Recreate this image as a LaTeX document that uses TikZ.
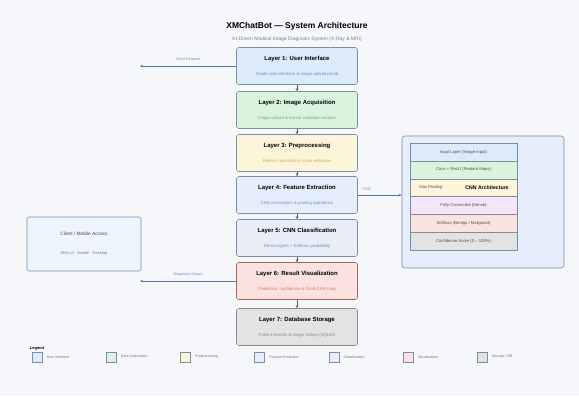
\documentclass[tikz,border=0pt]{standalone}
\usepackage{fontspec}
\setmainfont{Liberation Sans}
\usetikzlibrary{arrows.meta}
\definecolor{bgc}{HTML}{F5F7FB}
\definecolor{edgec}{HTML}{7C8DA6}
\definecolor{fillA}{HTML}{DCEAFB}
\definecolor{fillB}{HTML}{DAF3DD}
\definecolor{fillC}{HTML}{FCF5D9}
\definecolor{fillD}{HTML}{E5EEFA}
\definecolor{fillE}{HTML}{E8EDF6}
\definecolor{fillF}{HTML}{FBE1DF}
\definecolor{fillG}{HTML}{E3E3E3}
\definecolor{fillH}{HTML}{F3E6F8}
\definecolor{subA}{HTML}{6A93C8}
\definecolor{subB}{HTML}{6FAF7A}
\definecolor{subC}{HTML}{C8A94E}
\definecolor{subF}{HTML}{D07C78}
\definecolor{subG}{HTML}{8A8A8A}
\newcommand{\laytext}[3]{{\bfseries\fontsize{6}{7}\selectfont #1}\\[3bp]{\fontsize{4.3}{5}\selectfont\color{#3}#2}}
\begin{document}
\begin{tikzpicture}[x=1bp,y=-1bp,>={Stealth[length=3bp,width=2.6bp]},
    layer/.style={draw=edgec,line width=0.6bp,rounded corners=2.5bp,rectangle,minimum width=121bp,minimum height=37bp,align=center,inner sep=1bp},
    row/.style={draw=edgec,line width=0.4bp,rectangle,minimum width=107bp,minimum height=17.8bp,font=\fontsize{4.2}{5}\selectfont,text=black!70},
    note/.style={font=\fontsize{3.8}{4.5}\selectfont,text=subA},
    key/.style={draw=edgec,line width=0.5bp,minimum size=10bp,inner sep=0pt},
    keytext/.style={font=\fontsize{3.6}{4}\selectfont,text=black!55,anchor=west},
    link/.style={->,draw=black!65,line width=0.6bp},
    side/.style={->,draw=subA!80!black,line width=0.6bp}]
    %%
    \fill [bgc] (0,0) rectangle (579,396);
    \node (title) at (297,26) {\bfseries\fontsize{8.5}{10}\selectfont XMChatBot — System Architecture};
    \node (subtitle) at (297,39) {\fontsize{5}{6}\selectfont\color{black!50} AI-Driven Medical Image Diagnosis System (X-Ray \& MRI)};
    %%
    \node (l1) at (297,66) [layer,fill=fillA] {\laytext{Layer 1: User Interface}{Gradio web interface \& image upload portal}{subA}};
    \node (l2) at (297,110) [layer,fill=fillB] {\laytext{Layer 2: Image Acquisition}{Image upload \& format validation module}{subB}};
    \node (l3) at (297,153) [layer,fill=fillC] {\laytext{Layer 3: Preprocessing}{Resize, normalize \& noise reduction}{subC}};
    \node (l4) at (297,195) [layer,fill=fillD] {\laytext{Layer 4: Feature Extraction}{CNN convolution \& pooling operations}{subA}};
    \node (l5) at (297,238) [layer,fill=fillE] {\laytext{Layer 5: CNN Classification}{Dense layers + Softmax probability}{subA}};
    \node (l6) at (297,281) [layer,fill=fillF,draw=subF!80!black] {\laytext{Layer 6: Result Visualization}{Prediction, confidence \& Grad-CAM map}{subF}};
    \node (l7) at (297,327) [layer,fill=fillG,draw=subG] {\laytext{Layer 7: Database Storage}{Patient records \& image history (SQLite)}{subG}};
    \draw [link] (l1) -- (l2);
    \draw [link] (l2) -- (l3);
    \draw [link] (l3) -- (l4);
    \draw [link] (l4) -- (l5);
    \draw [link] (l5) -- (l6);
    \draw [link] (l6) -- (l7);
    %%
    \node (client) at (84,244) [draw=edgec,line width=0.6bp,fill=fillD!60,rectangle,rounded corners=1.5bp,minimum width=114bp,minimum height=54bp,align=center] {{\fontsize{4.8}{5.5}\selectfont\color{black!70} Client / Mobile Access}\\[7bp]{\fontsize{4}{4.5}\selectfont\color{black!50} Web UI · Mobile · Desktop}};
    \coordinate (req) at (140,66);
    \coordinate (res) at (140,281);
    \draw [side] (l1.west) -- node [note,above=1bp] {Send Request} (req);
    \draw [side] (l6.west) -- node [note,above=1bp] {Diagnosis Output} (res);
    %%
    \node (cnn) at (483,202) [draw=edgec,line width=0.6bp,fill=fillD,rectangle,rounded corners=3bp,minimum width=162bp,minimum height=132bp] {};
    \node (r1) at (463.5,152) [row,fill=fillA] {Input Layer (Image Input)};
    \node (r2) at (463.5,169.8) [row,fill=fillB] {Conv + ReLU (Feature Maps)};
    \node (r3) at (463.5,187.6) [row,fill=fillC] {};
    \node (r4) at (463.5,205.4) [row,fill=fillH] {Fully Connected (Dense)};
    \node (r5) at (463.5,223.2) [row,fill=fillF] {Softmax (Benign / Malignant)};
    \node (r6) at (463.5,241) [row,fill=fillG] {Confidence Score (0 – 100\%)};
    \node (r3a) at (r3.west) [anchor=west,xshift=6bp,font=\fontsize{4.2}{5}\selectfont,text=black!70] {Max Pooling};
    \node (cnntitle) at (487,187.6) {\bfseries\fontsize{5.2}{6}\selectfont CNN Architecture};
    \draw [side] (l4.east) -- node [note,above=0.5bp,pos=0.2] {CNN} (cnn.west |- l4.east);
    %%
    \node (legend) at (37,348) {\bfseries\fontsize{4}{5}\selectfont Legend};
    \foreach \c/\t [count=\i from 0] in {fillA/User Interface,fillB/Data Acquisition,fillC/Preprocessing,fillD/Feature Extraction,fillE/Classification,fillF/Visualization,fillG/{Storage / DB}} {
        \node (k\i) at (37+74.2*\i,357) [key,fill=\c] {};
        \node (kt\i) at (k\i.east) [keytext,xshift=1bp] {\t};
    }
    %
\end{tikzpicture}
\end{document}
